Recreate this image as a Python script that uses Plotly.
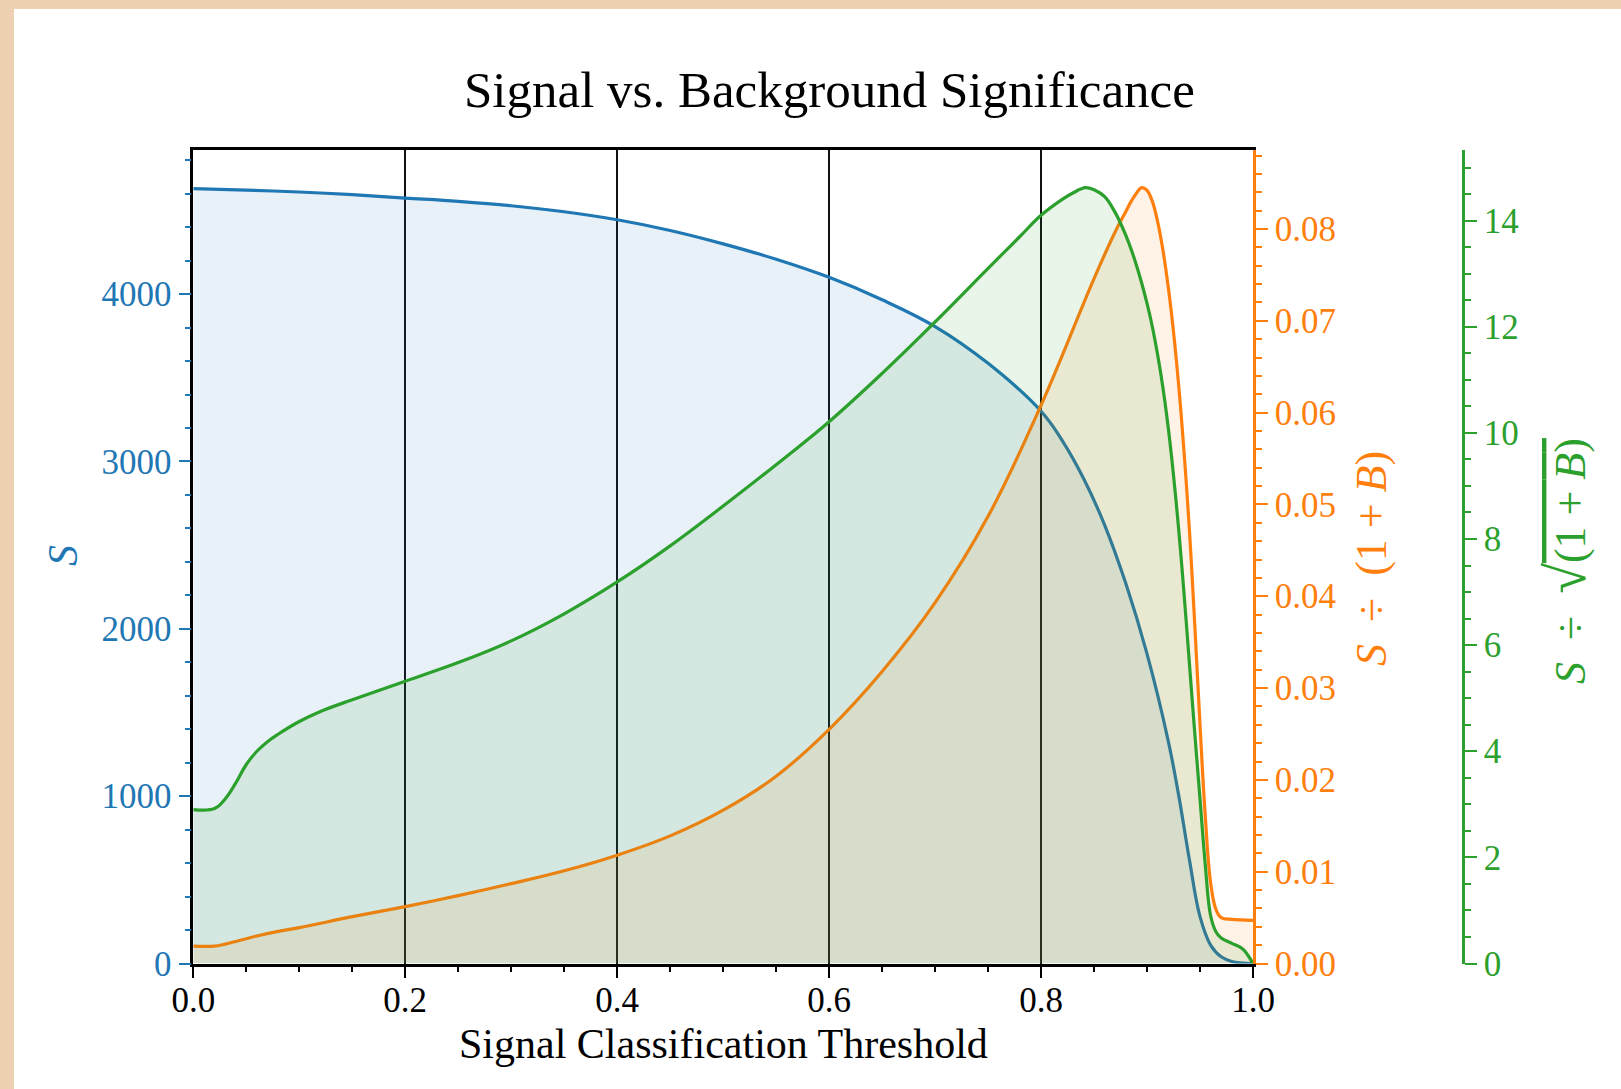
import plotly.graph_objects as go

# ---------------- data ----------------
thr_S = [0, 0.05, 0.1, 0.15, 0.2, 0.25, 0.3, 0.35, 0.4, 0.45, 0.5, 0.55, 0.6, 0.65, 0.7,
         0.75, 0.8, 0.82, 0.84, 0.86, 0.88, 0.9, 0.92, 0.93, 0.94, 0.95, 0.96, 0.97, 0.98, 0.99, 1.0]
signal_S = [4630, 4621, 4610, 4594, 4574, 4554, 4528, 4492, 4444, 4380, 4300, 4208, 4100, 3966, 3806,
            3586, 3300, 3125, 2900, 2620, 2270, 1850, 1330, 1000, 620, 280, 110, 40, 12, 3, 0]

thr_R = [0, 0.02, 0.04, 0.06, 0.08, 0.1, 0.15, 0.2, 0.25, 0.3, 0.35, 0.4, 0.45, 0.5, 0.55, 0.6,
         0.65, 0.7, 0.75, 0.8, 0.85, 0.87, 0.88, 0.885, 0.89, 0.895, 0.9, 0.905, 0.91, 0.915,
         0.92, 0.925, 0.93, 0.935, 0.94, 0.945, 0.95, 0.955, 0.96, 0.965, 0.97, 0.98, 1.0]
ratio_R = [0.0019, 0.0019, 0.0024, 0.0030, 0.0035, 0.0039, 0.0051, 0.0062, 0.0074, 0.0087, 0.0101,
           0.0118, 0.0139, 0.0167, 0.0204, 0.0255, 0.0318, 0.0393, 0.0487, 0.0608, 0.0746, 0.0797,
           0.0819, 0.0830, 0.0839, 0.0845, 0.0842, 0.0830, 0.0808, 0.0777, 0.0737, 0.0688, 0.0628,
           0.0556, 0.0472, 0.0370, 0.0260, 0.0160, 0.0088, 0.0059, 0.0050, 0.0048, 0.0047]

thr_Z = [0, 0.02, 0.03, 0.04, 0.05, 0.06, 0.07, 0.08, 0.1, 0.12, 0.15, 0.2, 0.25, 0.3, 0.35, 0.4,
         0.45, 0.5, 0.55, 0.6, 0.65, 0.7, 0.75, 0.78, 0.8, 0.82, 0.83, 0.842, 0.85, 0.86, 0.87, 0.875,
         0.88, 0.885, 0.89, 0.895, 0.9, 0.905, 0.91, 0.915, 0.92, 0.925, 0.93, 0.935, 0.94, 0.945,
         0.95, 0.955, 0.96, 0.965, 0.97, 0.98, 0.99, 0.995, 1.0]
signif_Z = [2.9, 2.92, 3.1, 3.4, 3.75, 4.0, 4.18, 4.32, 4.56, 4.75, 4.97, 5.32, 5.67, 6.08, 6.59,
            7.19, 7.87, 8.62, 9.40, 10.21, 11.12, 12.09, 13.1, 13.7, 14.1, 14.4, 14.52, 14.62, 14.58,
            14.45, 14.15, 13.95, 13.72, 13.46, 13.16, 12.82, 12.44, 12.0, 11.47, 10.85, 10.1, 9.2,
            8.15, 6.95, 5.65, 4.35, 3.1, 1.85, 0.9, 0.6, 0.48, 0.38, 0.28, 0.16, 0.0]

x_ticks = [0.0, 0.2, 0.4, 0.6, 0.8, 1.0]
s_ticks = [0, 1000, 2000, 3000, 4000]
r_ticks = [0.00, 0.01, 0.02, 0.03, 0.04, 0.05, 0.06, 0.07, 0.08]
z_ticks = [0, 2, 4, 6, 8, 10, 12, 14]

# ---------------- styling ----------------
W, H = 1621, 1089
BLUE, ORANGE, GREEN = "#1f77b4", "#ff7f0e", "#2ca02c"
FONT = "Liberation Serif"
TICK = 35
LAB = 42
SMOOTH = 1.1

def px_x(p):
    return p / W

def px_y(p):
    return 1 - p / H

x_dom = [px_x(193.3), px_x(1253)]
y_dom = [px_y(963.5), px_y(150)]

def curve(x, y, axis, color, fill):
    return go.Scatter(x=x, y=y, mode="lines", yaxis=axis,
                      line=dict(color=color, width=3.2, shape="spline", smoothing=SMOOTH,
                                simplify=False),
                      fill="tozeroy", fillcolor=fill, showlegend=False)

fig = go.Figure()
fig.add_trace(curve(thr_S, signal_S, "y", BLUE, "rgba(31,119,180,0.1)"))
fig.add_trace(curve(thr_R, ratio_R, "y2", ORANGE, "rgba(255,127,14,0.1)"))
fig.add_trace(curve(thr_Z, signif_Z, "y3", GREEN, "rgba(44,160,44,0.1)"))

def yax(color, rng, ticks, fmt, minor_dt, linecolor, **kw):
    d = dict(range=rng, domain=y_dom, tickvals=ticks, ticktext=[format(t, fmt) for t in ticks],
             ticks="outside", ticklen=12, tickwidth=2, tickcolor=color,
             tickfont=dict(family=FONT, size=TICK, color=color),
             showline=True, linecolor=linecolor, linewidth=2.5,
             showgrid=False, zeroline=False, fixedrange=True,
             minor=dict(dtick=minor_dt, ticks="outside", ticklen=6, tickwidth=1.5,
                        tickcolor=color, showgrid=False))
    d.update(kw)
    return d

fig.update_layout(
    width=W, height=H, template="none",
    margin=dict(l=0, r=0, t=0, b=0),
    paper_bgcolor="#edd1b2", plot_bgcolor="rgba(0,0,0,0)",
    font=dict(family=FONT),
    xaxis=dict(domain=x_dom, range=[0, 1], tickvals=x_ticks,
               ticktext=[f"{t:.1f}" for t in x_ticks],
               ticks="outside", ticklen=12, tickwidth=2, tickcolor="black",
               tickfont=dict(family=FONT, size=TICK, color="black"),
               ticklabelstandoff=-8,
               showline=True, linecolor="black", linewidth=2.5, mirror=True,
               showgrid=True, gridcolor="#111111", gridwidth=1.6, zeroline=False,
               minor=dict(dtick=0.05, ticks="outside", ticklen=6, tickwidth=1.5,
                          tickcolor="black", showgrid=False)),
    yaxis=yax(BLUE, [0, 4861], s_ticks, "d", 200, "black"),
    yaxis2=yax(ORANGE, [0, 0.0886], r_ticks, ".2f", 0.002, ORANGE,
               overlaying="y", side="right", anchor="x"),
    yaxis3=yax(GREEN, [0, 15.33], z_ticks, "d", 0.5, GREEN,
               overlaying="y", side="right", anchor="free", position=px_x(1463)),
)

# white panel over the parchment background
fig.add_shape(type="rect", xref="paper", yref="paper", x0=px_x(14), x1=1.01, y0=-0.01, y1=px_y(9),
              fillcolor="white", line=dict(width=0), layer="below")

EN = "\u2002"
ann = [
    dict(text="Signal vs. Background Significance", x=px_x(829), y=px_y(90),
         font=dict(size=51, color="black")),
    dict(text="Signal Classification Threshold", x=px_x(723), y=px_y(1044),
         font=dict(size=LAB, color="black")),
    dict(text="<i>S</i>", x=px_x(63), y=px_y(555), textangle=-90,
         font=dict(size=LAB, color=BLUE)),
    dict(text=f"<i>S</i>{EN}÷{EN}(1 + <i>B</i>)", x=px_x(1371), y=px_y(559), textangle=-90,
         font=dict(size=44, color=ORANGE)),
    dict(text=f"<i>S</i>{EN}÷{EN}<span style='font-size:56px'>√</span>"
              "<span style='text-decoration:overline'>(1 + <i>B</i>)</span>",
         x=px_x(1566), y=px_y(561), textangle=-90,
         font=dict(size=44, color=GREEN)),
]
for a in ann:
    a.update(xref="paper", yref="paper", showarrow=False, xanchor="center", yanchor="middle")
    a["font"]["family"] = FONT
    fig.add_annotation(**a)

fig.write_html("out.html")
